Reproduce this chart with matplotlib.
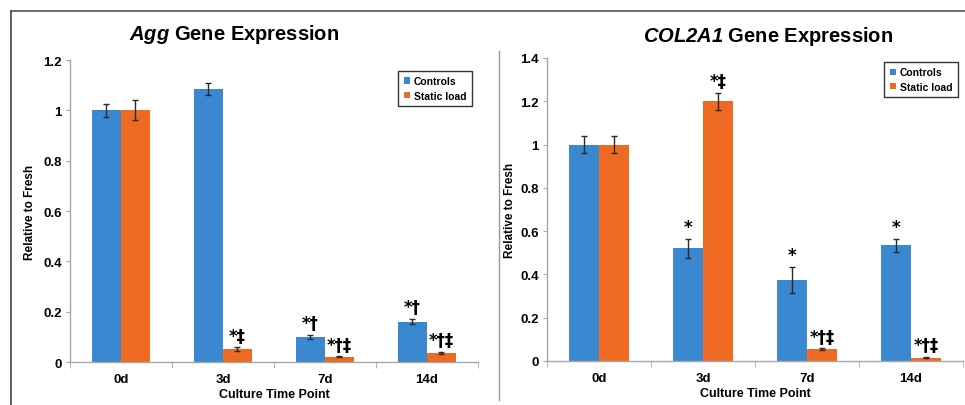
import matplotlib
matplotlib.use('Agg')
import matplotlib.pyplot as plt
from matplotlib.lines import Line2D
import numpy as np

plt.rcParams['font.family'] = ['Liberation Sans', 'DejaVu Sans']
plt.rcParams['font.weight'] = 'bold'
plt.rcParams['mathtext.fontset'] = 'custom'
plt.rcParams['mathtext.bfit'] = 'Liberation Sans:italic:bold'

time_points = ['0d', '3d', '7d', '14d']

# Agg panel
agg_controls = [1.0, 1.085, 0.10, 0.16]
agg_controls_err = [0.025, 0.025, 0.008, 0.01]
agg_static = [1.0, 0.05, 0.02, 0.035]
agg_static_err = [0.04, 0.008, 0.002, 0.004]
agg_controls_sig = ['', '', '*†', '*†']
agg_static_sig = ['', '*‡', '*†‡', '*†‡']

# COL2A1 panel
col_controls = [1.0, 0.52, 0.375, 0.535]
col_controls_err = [0.04, 0.045, 0.06, 0.03]
col_static = [1.0, 1.2, 0.055, 0.015]
col_static_err = [0.04, 0.04, 0.003, 0.003]
col_controls_sig = ['', '*', '*', '*']
col_static_sig = ['', '*‡', '*†‡', '*†‡']

BLUE = '#3a88cf'
ORANGE = '#ee6a22'
GRAY = '#a6a6a6'


def draw_panel(ax, controls, c_err, static, s_err, c_sig, s_sig, ymax, step):
    x = np.arange(len(time_points))
    w = 0.285
    ekw = dict(ecolor='#2a2a2a', elinewidth=1, capsize=2.5, capthick=1)
    ax.bar(x - w / 2, controls, w, yerr=c_err, color=BLUE, label='Controls',
           error_kw=ekw, zorder=2)
    ax.bar(x + w / 2, static, w, yerr=s_err, color=ORANGE, label='Static load',
           error_kw=ekw, zorder=2)

    # significance marks above the error bars
    for xs, vals, errs, sigs in [(x - w / 2, controls, c_err, c_sig),
                                 (x + w / 2, static, s_err, s_sig)]:
        for xi, v, e, s in zip(xs, vals, errs, sigs):
            if s:
                ax.annotate(s, (xi, v + e), xytext=(0, 2), textcoords='offset points',
                            ha='center', va='bottom', fontsize=12, fontweight='bold',
                            family=['DejaVu Sans'])

    ax.set_xlim(-0.5, len(time_points) - 0.5)
    ax.set_ylim(0, ymax)
    ticks = np.arange(0, ymax + 1e-9, step)
    ax.set_yticks(ticks)
    ax.set_yticklabels([f'{v:g}' for v in ticks])
    ax.set_xticks(x)
    ax.set_xticklabels(time_points)
    ax.set_xticks(np.arange(-0.5, len(time_points)), minor=True)
    ax.tick_params(axis='x', which='major', length=0, pad=8, labelsize=9.5)
    ax.tick_params(axis='x', which='minor', length=4, color=GRAY, direction='out')
    ax.tick_params(axis='y', length=3, color=GRAY, labelsize=9.5, pad=3)

    for side in ['top', 'right']:
        ax.spines[side].set_visible(False)
    for side in ['left', 'bottom']:
        ax.spines[side].set_color(GRAY)
        ax.spines[side].set_linewidth(1)

    ax.set_xlabel('Culture Time Point', fontsize=9, fontweight='bold')
    ax.set_ylabel('Relative to Fresh', fontsize=8.5, fontweight='bold')


fig = plt.figure(figsize=(9.65, 4.06), dpi=100)

ax1 = fig.add_axes([0.0725, 0.1059, 0.4228, 0.7438])
draw_panel(ax1, agg_controls, agg_controls_err, agg_static, agg_static_err,
           agg_controls_sig, agg_static_sig, 1.2, 0.2)
ax1.yaxis.set_label_coords(-0.083, 0.5)
ax1.xaxis.set_label_coords(0.5, -0.085)
leg1 = ax1.legend(loc='upper right', bbox_to_anchor=(0.998, 0.98), fontsize=7.5,
                  handlelength=0.6, handleheight=0.6, handletextpad=0.4,
                  borderpad=0.5, labelspacing=0.4, fancybox=False,
                  edgecolor='#333333', framealpha=1)
leg1.get_frame().set_linewidth(1)

ax2 = fig.add_axes([0.5668, 0.1084, 0.4311, 0.7463])
draw_panel(ax2, col_controls, col_controls_err, col_static, col_static_err,
           col_controls_sig, col_static_sig, 1.4, 0.2)
ax2.yaxis.set_label_coords(-0.075, 0.5)
ax2.xaxis.set_label_coords(0.5, -0.085)
leg2 = ax2.legend(loc='upper right', bbox_to_anchor=(1.0, 1.003), fontsize=7.5,
                  handlelength=0.6, handleheight=0.6, handletextpad=0.4,
                  borderpad=0.5, labelspacing=0.4, fancybox=False,
                  edgecolor='#333333', framealpha=1)
leg2.get_frame().set_linewidth(1)

fig.text(234 / 965, 1 - 35 / 406, r'$\mathbfit{Agg}$ Gene Expression',
         ha='center', va='center', fontsize=14.5, fontweight='bold')
fig.text(768 / 965, 1 - 37 / 406, r'$\mathbfit{COL2A1}$ Gene Expression',
         ha='center', va='center', fontsize=14.5, fontweight='bold')

# panel frame lines
fig.add_artist(Line2D([11 / 965, 1.0], [1 - 12 / 406, 1 - 12 / 406],
                      color='#555555', linewidth=1.2, transform=fig.transFigure))
fig.add_artist(Line2D([11 / 965, 11 / 965], [1 - 12 / 406, 0.0],
                      color='#444444', linewidth=1.2, transform=fig.transFigure))
fig.add_artist(Line2D([499 / 965, 499 / 965], [1 - 52 / 406, 1 - 401 / 406],
                      color='#999999', linewidth=1, transform=fig.transFigure))

fig.savefig('out.png', dpi=100)
